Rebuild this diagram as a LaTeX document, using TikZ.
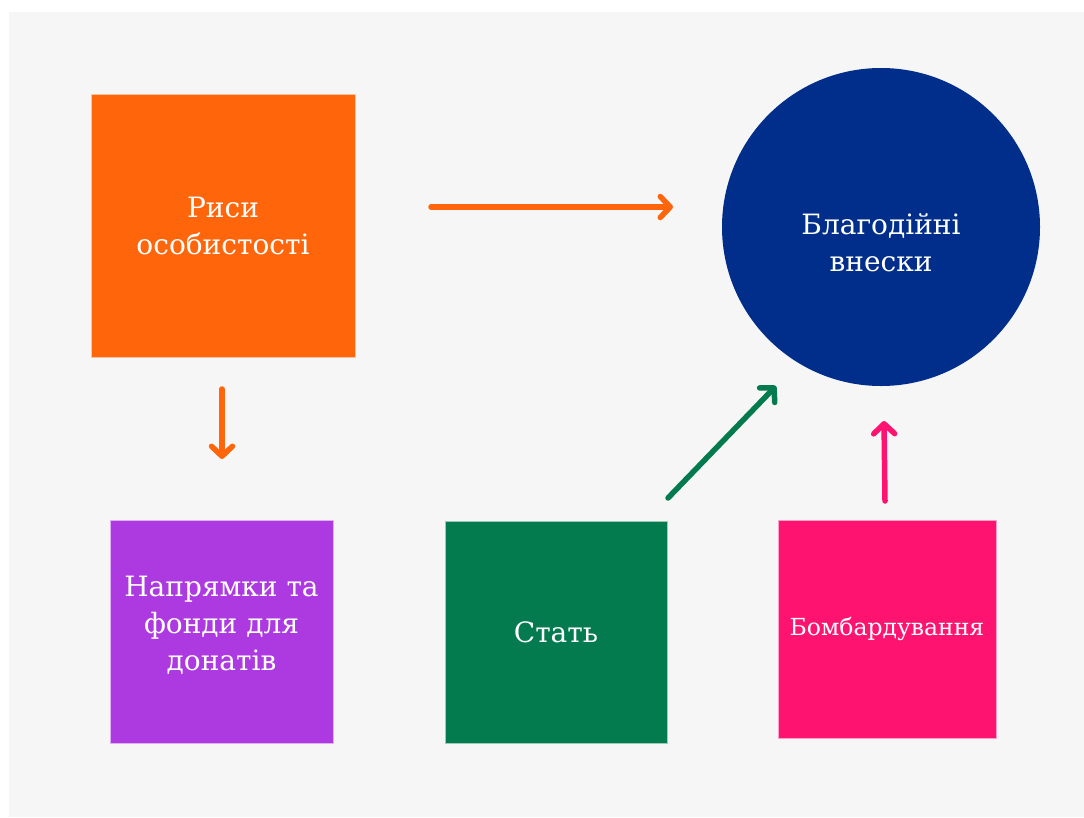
\documentclass[tikz,border=0pt]{standalone}
\usepackage{fontspec}
\setmainfont{DejaVu Serif}
\usetikzlibrary{arrows.meta}
\definecolor{bg}{HTML}{F6F6F6}
\definecolor{orng}{HTML}{FF660B}
\definecolor{navy}{HTML}{012E8A}
\definecolor{purp}{HTML}{AD3AE0}
\definecolor{grn}{HTML}{047B4E}
\definecolor{pnk}{HTML}{FE1470}
\tikzset{
  lbl/.style={text=white, align=center, font=\fontsize{28}{37}\selectfont},
  box/.style={rectangle, inner sep=0pt, draw=white!60!#1, line width=0.6pt, fill=#1, lbl},
  conn/.style={line width=5.5pt, line cap=round, draw=#1, -{Straight Barb[length=10pt, width=21pt, line width=5.5pt, round]}}
}
\begin{document}
\begin{tikzpicture}[x=1pt, y=-1pt]
\useasboundingbox (0,0) rectangle (1084,817);
\fill[bg] (9,12) rectangle (1084,817);
\node[box=orng, minimum width=264pt, minimum height=263pt] (a) at (223,225.5) {Риси\\особистості};
\node[circle, inner sep=0pt, minimum size=318pt, fill=navy] (c) at (881,227) {};
\node[lbl] (ct) at (881,243) {Благодійні\\внески};
\node[box=purp, minimum width=223pt, minimum height=223pt] (p) at (221.5,631.5) {};
\node[lbl] (pt) at (221.5,625) {Напрямки та\\фонди для\\донатів};
\node[box=grn, minimum width=222pt, minimum height=222pt] (g) at (556,632) {Стать};
\node[box=pnk, minimum width=218pt, minimum height=218pt, font=\fontsize{23.5}{30}\selectfont] (k) at (887,629) {Бомбардування};
\coordinate (a1) at (431,207);
\coordinate (a2) at (673,207);
\coordinate (b1) at (222,389);
\coordinate (b2) at (222,459);
\coordinate (g1) at (668,498);
\coordinate (g2) at (776,386);
\coordinate (k1) at (885,501);
\coordinate (k2) at (884,421);
\draw[conn=orng] (a1) -- (a2);
\draw[conn=orng] (b1) -- (b2);
\draw[conn=grn] (g1) -- (g2);
\draw[conn=pnk] (k1) -- (k2);
\end{tikzpicture}
\end{document}
